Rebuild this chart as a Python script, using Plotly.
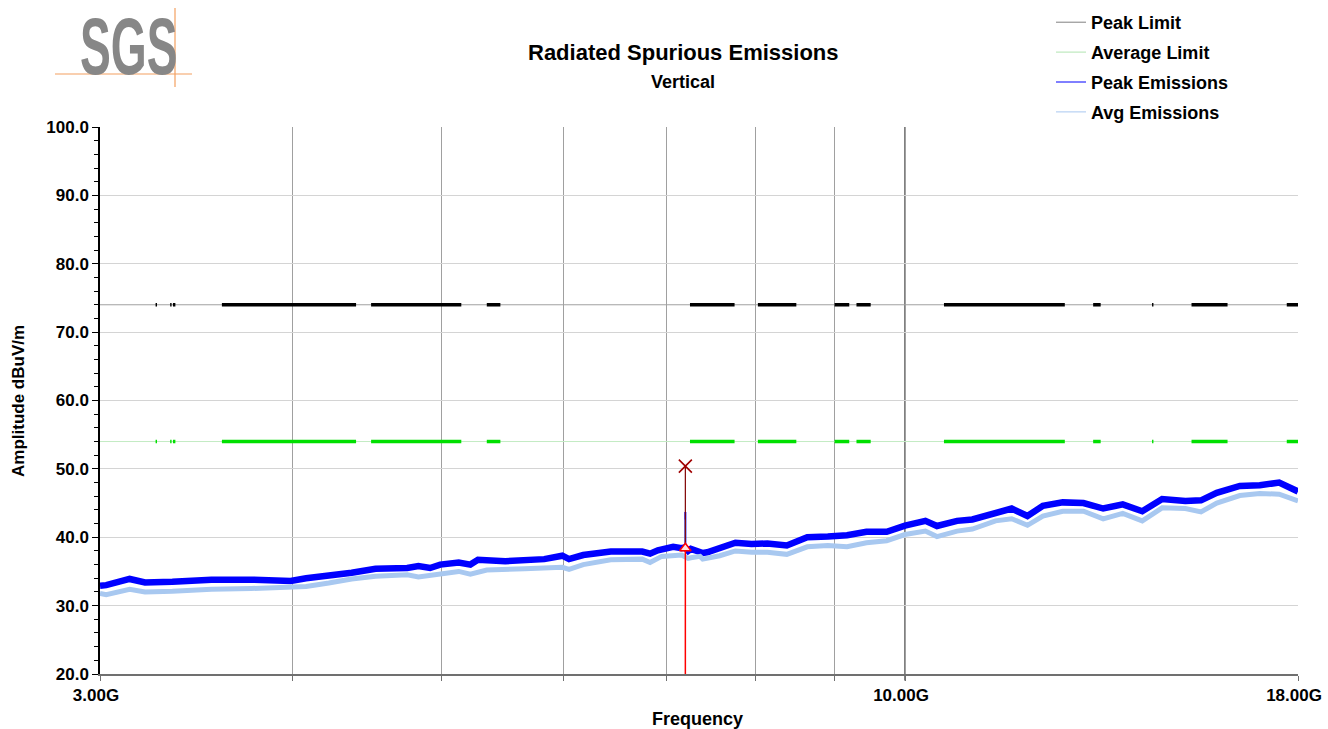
import plotly.graph_objects as go

# ---------------- data ----------------
freq_peak = [3.00, 3.028, 3.136, 3.209, 3.343, 3.544, 3.761, 3.99, 4.083, 4.224,
             4.371, 4.53, 4.75, 4.83, 4.915, 4.99, 5.13, 5.22, 5.28, 5.50,
             5.66, 5.83, 5.99, 6.05, 6.18, 6.44, 6.75, 6.83, 6.91, 7.07,
             7.16, 7.19, 7.21, 7.23, 7.26, 7.36, 7.39, 7.44, 7.58, 7.76,
             7.95, 8.14, 8.38, 8.64, 8.91, 9.17, 9.44, 9.73, 10.0, 10.31,
             10.49, 10.81, 11.06, 11.45, 11.73, 12.01, 12.29, 12.66, 13.06, 13.45,
             13.85, 14.26, 14.69, 15.21, 15.57, 15.94, 16.50, 17.00, 17.50, 18.0]
peak_vals = [32.9, 33.0, 33.9, 33.4, 33.5, 33.8, 33.8, 33.6, 34.0, 34.3,
             34.8, 35.4, 35.5, 35.8, 35.5, 36.0, 36.3, 36.0, 36.7, 36.5,
             36.7, 36.8, 37.3, 36.8, 37.4, 37.9, 37.9, 37.6, 38.1, 38.6,
             38.4, 38.5, 38.3, 38.0, 38.3, 37.8, 37.7, 37.8, 38.5, 39.2,
             39.0, 39.1, 38.8, 40.0, 40.1, 40.3, 40.8, 40.8, 41.7, 42.4,
             41.65, 42.4, 42.6, 43.6, 44.2, 43.1, 44.6, 45.1, 45.0, 44.2,
             44.8, 43.8, 45.6, 45.3, 45.4, 46.5, 47.5, 47.6, 48.0, 46.7]

freq_avg = [3.00, 3.028, 3.136, 3.209, 3.343, 3.544, 3.761, 3.99, 4.083, 4.224,
            4.371, 4.53, 4.75, 4.83, 4.99, 5.13, 5.22, 5.35, 5.66, 5.99,
            6.05, 6.18, 6.44, 6.75, 6.83, 6.95, 7.16, 7.23, 7.26, 7.36,
            7.39, 7.58, 7.76, 7.95, 8.14, 8.38, 8.64, 8.91, 9.17, 9.44,
            9.73, 10.0, 10.31, 10.49, 10.81, 11.06, 11.45, 11.73, 12.01, 12.29,
            12.66, 13.06, 13.45, 13.85, 14.26, 14.69, 15.21, 15.57, 15.94, 16.50,
            17.00, 17.50, 18.0]
avg_vals = [31.8, 31.6, 32.4, 32.0, 32.1, 32.4, 32.5, 32.6, 32.8, 33.3,
            33.9, 34.3, 34.5, 34.2, 34.6, 35.0, 34.6, 35.2, 35.4, 35.6,
            35.3, 36.0, 36.7, 36.8, 36.3, 37.2, 37.4, 36.9, 37.0, 37.2,
            36.8, 37.3, 38.0, 37.8, 37.8, 37.5, 38.6, 38.8, 38.6, 39.2,
            39.5, 40.4, 40.9, 40.1, 40.9, 41.2, 42.4, 42.7, 41.75, 43.1,
            43.8, 43.8, 42.7, 43.5, 42.4, 44.3, 44.2, 43.7, 45.0, 46.1,
            46.4, 46.3, 45.3]

# restricted bands (GHz) where the limits are drawn bold
band_start = [3.260, 3.332, 3.3458, 3.600, 4.500, 5.350, 7.250, 8.025, 9.000, 9.300,
              10.600, 13.250, 14.470, 15.350, 17.700]
band_end = [3.267, 3.339, 3.358, 4.400, 5.150, 5.460, 7.750, 8.500, 9.200, 9.500,
            12.700, 13.400, 14.500, 16.200, 18.000]

freq_start, freq_stop = 3.0, 18.0
peak_limit = 74.0
avg_limit = 54.0

marker_freq = 7.20
marker_peak = 50.4
marker_level = 38.4
spike_base = 38.0
spike_peak = 43.7
spike_avg = 42.6

x_grid_vals = [3, 4, 5, 6, 7, 8, 9, 10, 18]
x_grid_text = ["3.00G", "", "", "", "", "", "", "10.00G", "18.00G"]
decade_line = 10
y_tick_vals = [20, 30, 40, 50, 60, 70, 80, 90, 100]

# ---------------- figure ----------------
FONT = "Liberation Sans, Arial, Helvetica, sans-serif"
fig = go.Figure()


def band_xy(level):
    xs, ys = [], []
    for s, e in zip(band_start, band_end):
        xs += [s, e, None]
        ys += [level, level, None]
    return xs, ys


# thin limit lines
fig.add_trace(go.Scatter(x=[freq_start, freq_stop], y=[peak_limit, peak_limit], mode="lines",
                         line=dict(color="#a0a0a0", width=1), showlegend=False, hoverinfo="skip"))
fig.add_trace(go.Scatter(x=[freq_start, freq_stop], y=[avg_limit, avg_limit], mode="lines",
                         line=dict(color="#c4ebc4", width=1), showlegend=False, hoverinfo="skip"))
# bold restricted band segments
bx, by = band_xy(peak_limit)
fig.add_trace(go.Scatter(x=bx, y=by, mode="lines", line=dict(color="#000000", width=3.5),
                         showlegend=False, hoverinfo="skip"))
bx, by = band_xy(avg_limit)
fig.add_trace(go.Scatter(x=bx, y=by, mode="lines", line=dict(color="#00e000", width=3.5),
                         showlegend=False, hoverinfo="skip"))

# emissions
fig.add_trace(go.Scatter(x=freq_peak, y=peak_vals, mode="lines", line=dict(color="#0000ff", width=6.5),
                         showlegend=False, name="Peak Emissions"))
fig.add_trace(go.Scatter(x=[marker_freq, marker_freq], y=[spike_base, spike_peak], mode="lines",
                         line=dict(color="#0000ff", width=2), showlegend=False, hoverinfo="skip"))
fig.add_trace(go.Scatter(x=freq_avg, y=avg_vals, mode="lines", line=dict(color="#a8c8f0", width=5),
                         showlegend=False, name="Avg Emissions"))
fig.add_trace(go.Scatter(x=[marker_freq, marker_freq], y=[spike_base, spike_avg], mode="lines",
                         line=dict(color="#a8c8f0", width=1.5), showlegend=False, hoverinfo="skip"))

# marker
fig.add_trace(go.Scatter(x=[marker_freq, marker_freq], y=[marker_level, marker_peak], mode="lines",
                         line=dict(color="#800000", width=1.2), showlegend=False, hoverinfo="skip"))
fig.add_trace(go.Scatter(x=[marker_freq, marker_freq], y=[20, marker_level], mode="lines",
                         line=dict(color="#ff0000", width=1.5), showlegend=False, hoverinfo="skip"))
fig.add_trace(go.Scatter(x=[marker_freq], y=[marker_peak], mode="markers",
                         marker=dict(symbol="x-thin", size=13, line=dict(color="#a00000", width=1.6)),
                         showlegend=False))
fig.add_trace(go.Scatter(x=[marker_freq], y=[marker_level], mode="markers",
                         marker=dict(symbol="triangle-up", size=10, color="#ffe0e0",
                                     line=dict(color="#ff0000", width=1.5)),
                         showlegend=False))

# legend entries (thin samples like the original)
for nm, col in [("Peak Limit", "#808080"), ("Average Limit", "#b0e4b0"),
                ("Peak Emissions", "#0000ff"), ("Avg Emissions", "#a8c8f0")]:
    fig.add_trace(go.Scatter(x=[None], y=[None], mode="lines", name=nm,
                             line=dict(color=col, width=1), legendgroup=nm))

# 10 GHz line darker
fig.add_shape(type="line", xref="x", yref="paper", x0=decade_line, x1=decade_line, y0=-0.012, y1=1,
              line=dict(color="#000000", width=1), layer="below")

# SGS logo
fig.add_annotation(text="SGS", xref="paper", yref="paper",
                   x=(128 - 100) / 1198, y=(674 - 46) / 547, xanchor="center", yanchor="middle",
                   showarrow=False, font=dict(family=FONT, size=66, color="#878787", weight="bold"))
fig.add_shape(type="line", xref="paper", yref="paper", x0=(55 - 100) / 1198, x1=(192 - 100) / 1198,
              y0=(674 - 74) / 547, y1=(674 - 74) / 547, line=dict(color="#f4a060", width=1.2))
fig.add_shape(type="line", xref="paper", yref="paper", x0=(175 - 100) / 1198, x1=(175 - 100) / 1198,
              y0=(674 - 8) / 547, y1=(674 - 87) / 547, line=dict(color="#f4a060", width=1.2))

# titles
fig.add_annotation(text="<b>Radiated Spurious Emissions</b>", xref="paper", yref="paper",
                   x=(683 - 100) / 1198, y=(674 - 52) / 547, xanchor="center", yanchor="middle",
                   showarrow=False, font=dict(family=FONT, size=22, color="#000000"))
fig.add_annotation(text="<b>Vertical</b>", xref="paper", yref="paper",
                   x=(683 - 100) / 1198, y=(674 - 82) / 547, xanchor="center", yanchor="middle",
                   showarrow=False, font=dict(family=FONT, size=18, color="#000000"))
fig.add_annotation(text="<b>Frequency</b>", xref="paper", yref="paper",
                   x=(697 - 100) / 1198, y=(674 - 719) / 547, xanchor="center", yanchor="middle",
                   showarrow=False, font=dict(family=FONT, size=18, color="#000000"))
fig.add_annotation(text="<b>Amplitude dBuV/m</b>", xref="paper", yref="paper",
                   x=(18 - 100) / 1198, y=(674 - 401) / 547, xanchor="center", yanchor="middle",
                   textangle=-90, showarrow=False, font=dict(family=FONT, size=17, color="#000000"))

fig.update_layout(
    width=1328, height=729,
    margin=dict(l=100, r=30, t=127, b=55, autoexpand=False),
    paper_bgcolor="white", plot_bgcolor="white",
    font=dict(family=FONT, color="#000000"),
    showlegend=True,
    legend=dict(x=(1051 - 100) / 1198, xanchor="left", y=(674 - 4) / 547, yanchor="top",
                font=dict(family=FONT, size=18, color="#000000", weight="bold"),
                bgcolor="rgba(0,0,0,0)", tracegroupgap=3.5, itemwidth=30),
    xaxis=dict(type="log", range=[0.47712125, 1.25527251], tickmode="array",
               tickvals=x_grid_vals, ticktext=x_grid_text, showgrid=True, gridcolor="#a0a0a0",
               gridwidth=1, zeroline=False, showline=True, linecolor="#707070", linewidth=1.5,
               ticks="outside", ticklen=5, tickcolor="#707070", ticklabelshift=-4,
               tickfont=dict(family=FONT, size=17, color="#000000", weight="bold"), mirror=False),
    yaxis=dict(range=[20, 100], tickmode="array", tickvals=y_tick_vals,
               ticktext=["%.1f" % v for v in y_tick_vals], showgrid=True, gridcolor="#d4d4d4",
               zeroline=False, showline=True, linecolor="#000000", linewidth=1.5,
               ticks="outside", ticklen=6, tickcolor="#000000",
               minor=dict(dtick=2, ticks="outside", ticklen=4, tickcolor="#000000", showgrid=False),
               tickfont=dict(family=FONT, size=17, color="#000000", weight="bold")),
)

# squeeze the logo lettering horizontally so it looks like the condensed SGS mark
post_js = """
var gd = document.getElementById('{plot_id}');
function squeezeLogo(){
  gd.querySelectorAll('text.annotation-text').forEach(function(n){
    if (n.textContent === 'SGS') {
      n.style.transformBox = 'fill-box';
      n.style.transformOrigin = 'center';
      n.style.transform = 'scale(0.70,1.20)';
    }
  });
}
squeezeLogo();
if (gd.on) { gd.on('plotly_afterplot', squeezeLogo); }
"""

fig.write_html("out.html", post_script=post_js)
